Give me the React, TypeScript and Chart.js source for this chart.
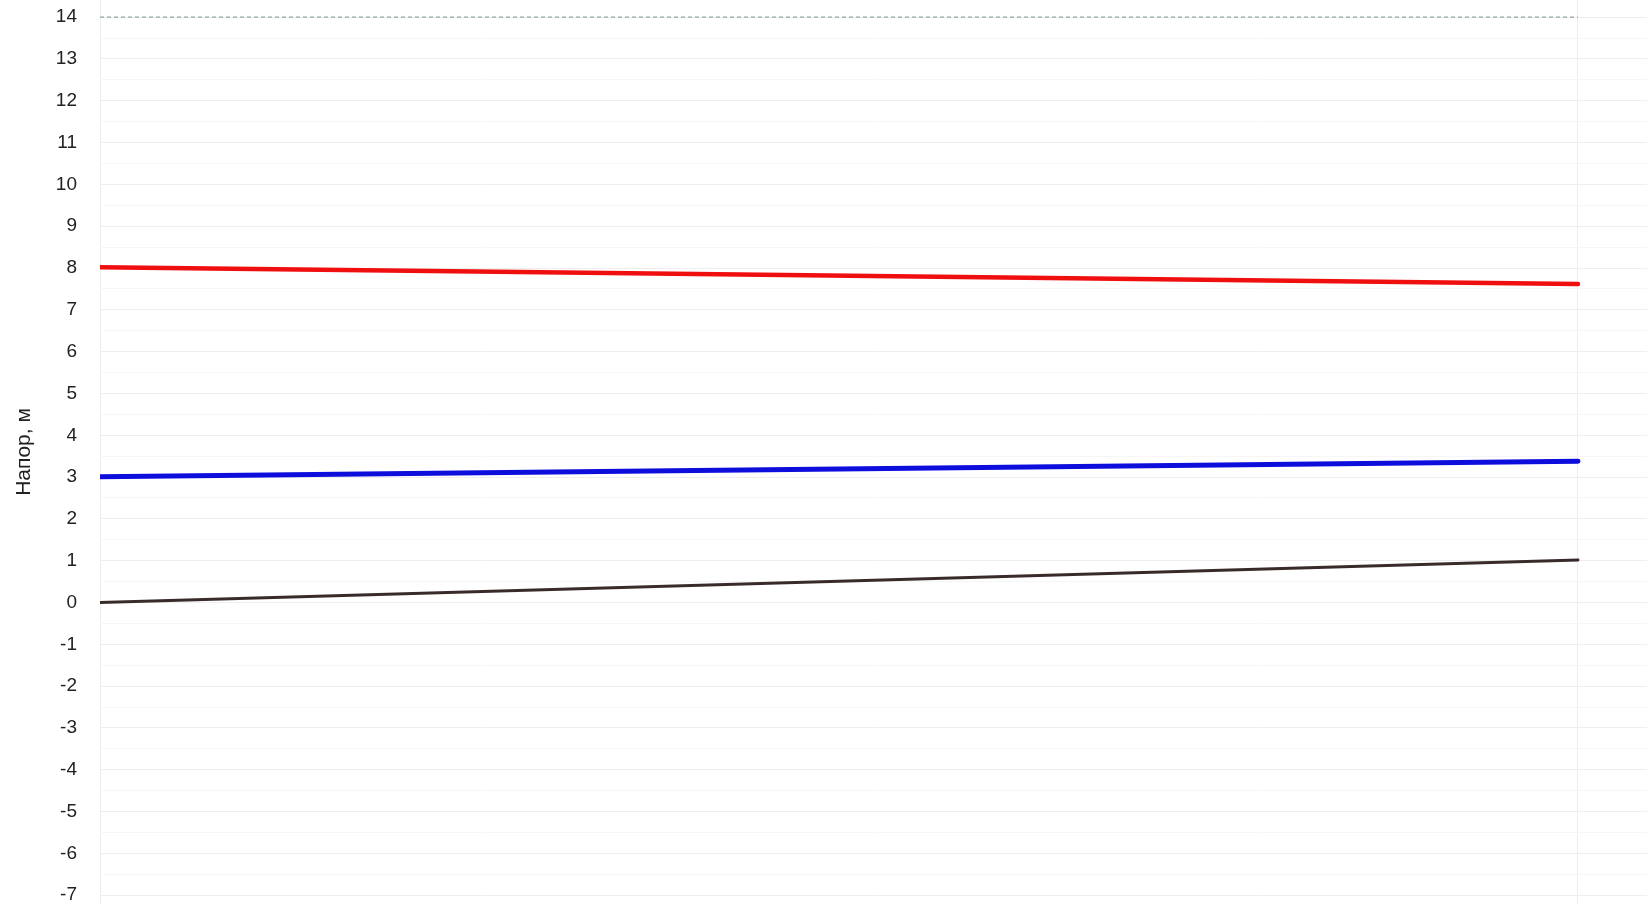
import React, { useEffect, useRef } from "react";
import { Chart, registerables } from "chart.js";

Chart.register(...registerables);

// Distance positions along the section (relative units)
const stations = [0, 1];
const supplyHead = [8.02, 7.62];
const returnHead = [3.01, 3.38];
const groundLevel = [0.0, 1.02];
const limitLevel = [14, 14];
const yTickValues = [-7, -6.5, -6, -5.5, -5, -4.5, -4, -3.5, -3, -2.5, -2, -1.5, -1, -0.5, 0, 0.5, 1, 1.5, 2, 2.5, 3, 3.5, 4, 4.5, 5, 5.5, 6, 6.5, 7, 7.5, 8, 8.5, 9, 9.5, 10, 10.5, 11, 11.5, 12, 12.5, 13, 13.5, 14];
const yTitle = "Напор, м";

export default function App() {
  const ref = useRef<HTMLCanvasElement | null>(null);

  useEffect(() => {
    document.body.style.margin = "0";
    const ctx = ref.current;
    if (!ctx) return;
    const pts = (arr: number[]) => arr.map((v, i) => ({ x: stations[i], y: v }));
    const chart = new Chart(ctx, {
      type: "line",
      data: {
        datasets: [
          {
            data: pts(limitLevel),
            borderColor: "#8fa7a7",
            borderWidth: 1.2,
            borderDash: [4, 3],
            pointRadius: 0,
          },
          {
            data: pts(supplyHead),
            borderColor: "#f00f0f",
            borderWidth: 4.5,
            borderCapStyle: "round",
            pointRadius: 0,
          },
          {
            data: pts(returnHead),
            borderColor: "#0d0ddc",
            borderWidth: 5,
            borderCapStyle: "round",
            pointRadius: 0,
          },
          {
            data: pts(groundLevel),
            borderColor: "#3a2b2b",
            borderWidth: 3,
            borderCapStyle: "round",
            pointRadius: 0,
          },
        ],
      },
      options: {
        animation: false,
        responsive: true,
        maintainAspectRatio: false,
        layout: { padding: 0 },
        plugins: { legend: { display: false }, tooltip: { enabled: false } },
        scales: {
          x: {
            type: "linear",
            min: 0,
            max: 1.0467,
            afterBuildTicks: (scale: any) => {
              scale.ticks = stations.map((v) => ({ value: v }));
            },
            afterFit: (scale: any) => {
              scale.height = 0;
              scale.paddingLeft = 0;
              scale.paddingRight = 0;
            },
            ticks: { display: false },
            grid: { color: "#ededed", drawTicks: false },
            border: { display: false },
          },
          y: {
            min: -7.21,
            max: 14.41,
            afterBuildTicks: (scale: any) => {
              scale.ticks = yTickValues.map((v) => ({ value: v }));
            },
            afterFit: (scale: any) => {
              scale.width = 100;
              scale.paddingTop = 0;
              scale.paddingBottom = 0;
            },
            ticks: {
              autoSkip: false,
              padding: 23,
              color: "#222222",
              font: { family: "'Liberation Sans', Arial, sans-serif", size: 19 },
              callback: (v: any) => (Number.isInteger(Number(v)) ? String(v) : ""),
            },
            grid: {
              drawTicks: false,
              color: (c: any) =>
                Number.isInteger(c.tick?.value) ? "#eeeeee" : "#f6f6f6",
            },
            border: { display: false },
            title: {
              display: true,
              text: yTitle,
              color: "#222222",
              font: { family: "'Liberation Sans', Arial, sans-serif", size: 21 },
              padding: { top: 12, bottom: 0 },
            },
          },
        },
      },
    });
    return () => chart.destroy();
  }, []);

  return (
    <div style={{ position: "fixed", left: 0, top: 0, width: 1647, height: 904, background: "#fff" }}>
      <canvas ref={ref} />
    </div>
  );
}
